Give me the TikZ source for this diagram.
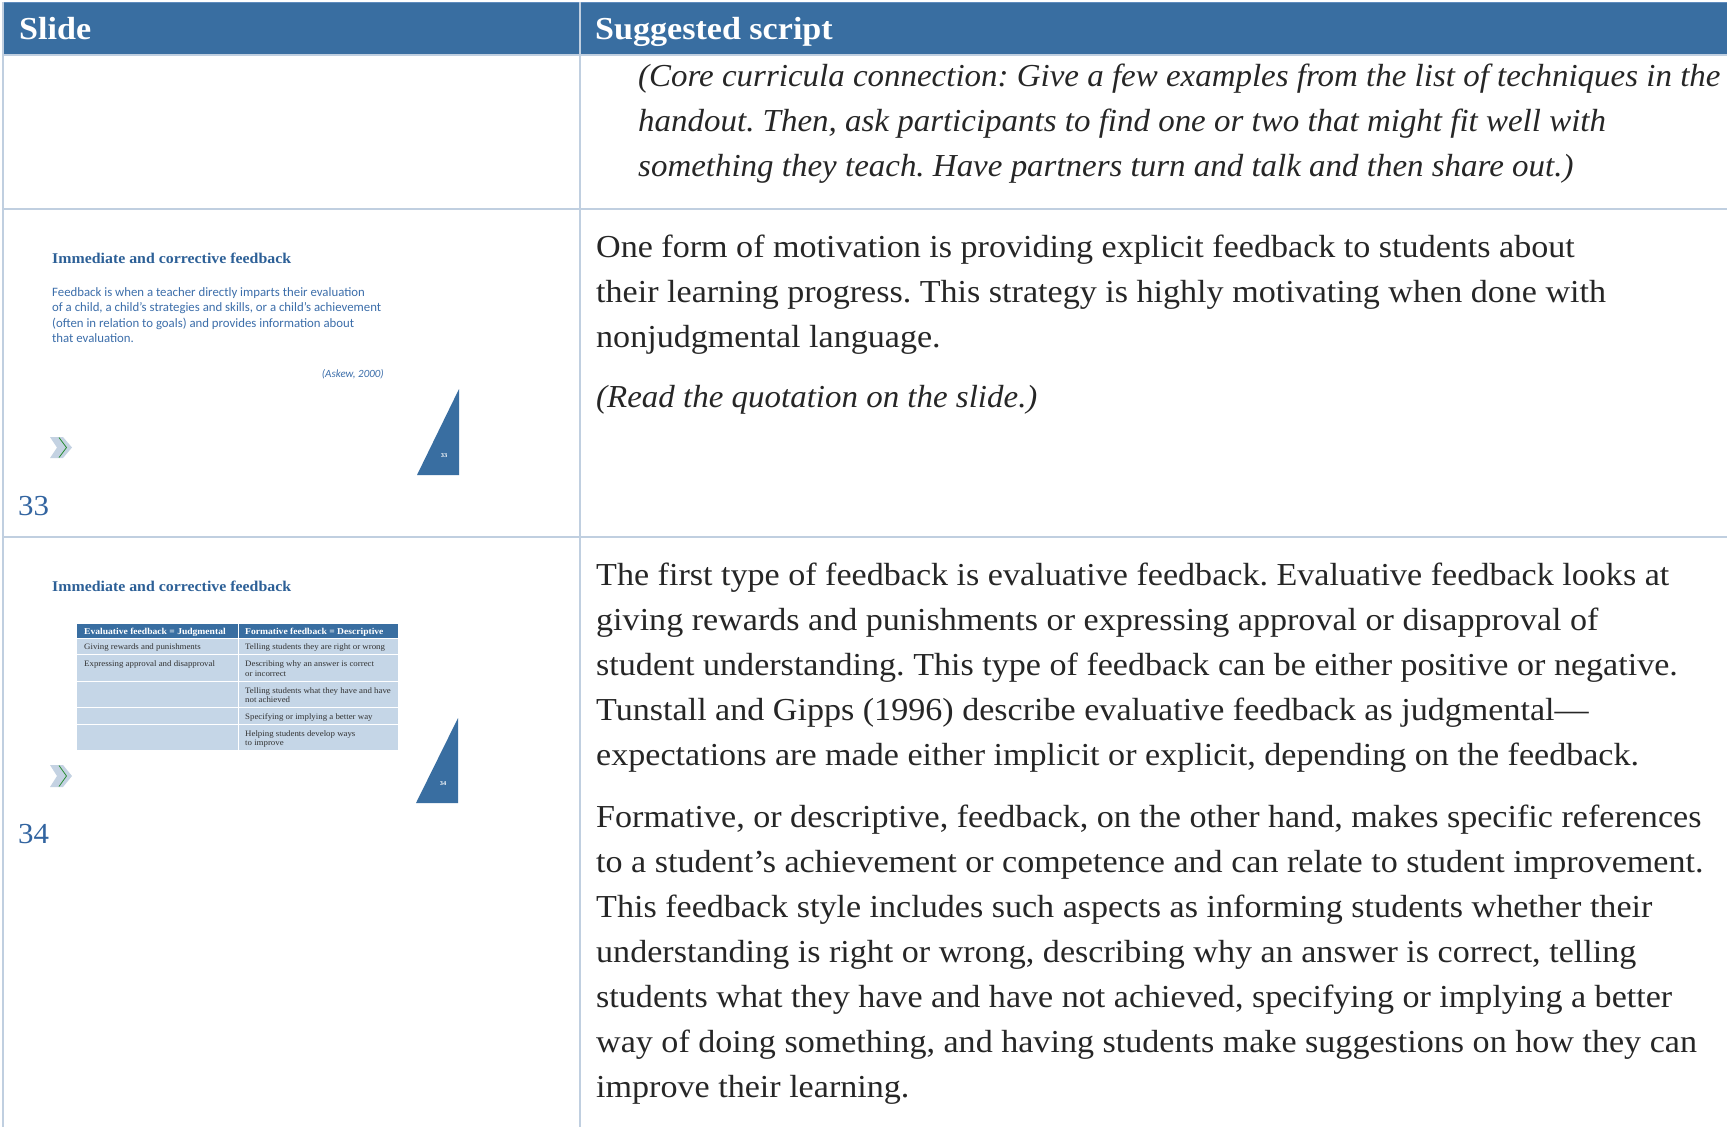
\documentclass[tikz,border=0pt]{standalone}
\usepackage{fontspec}
\newfontfamily\bodyrm{Liberation Serif}[FakeStretch=1.065]
\newfontfamily\bodyitf{Liberation Serif}[FakeStretch=1.03]
\newfontfamily\calib{Carlito}
\definecolor{hdrblue}{RGB}{57,110,161}
\definecolor{hdrtop}{RGB}{95,140,190}
\definecolor{gridc}{RGB}{192,207,224}
\definecolor{titleblue}{RGB}{45,96,151}
\definecolor{slidetext}{RGB}{60,110,170}
\definecolor{numblue}{RGB}{50,100,160}
\definecolor{tablelight}{RGB}{197,214,231}
\definecolor{chevlight}{RGB}{196,210,226}
\definecolor{chevgreen}{RGB}{40,140,50}
\definecolor{txtgray}{RGB}{38,38,38}
\definecolor{celltext}{RGB}{50,50,50}
\tikzset{
  gridline/.style={draw=gridc, line width=2pt},
  body/.style={anchor=base west, inner sep=0pt, text=txtgray, font=\bodyrm\fontsize{32}{45}\selectfont},
  bodyit/.style={anchor=base west, inner sep=0pt, text=txtgray, font=\bodyitf\fontsize{32}{45}\selectfont\itshape},
  hdrtext/.style={anchor=base west, inner sep=0pt, text=white, font=\bodyrm\fontsize{32}{40}\selectfont\bfseries},
  slidetitle/.style={anchor=base west, inner sep=0pt, text=titleblue, font=\bodyrm\fontsize{14.9}{18}\selectfont\bfseries},
  slidebody/.style={anchor=base west, inner sep=0pt, text=slidetext, font=\calib\fontsize{12.8}{15}\selectfont},
  cite/.style={anchor=base east, inner sep=0pt, text=slidetext, font=\calib\fontsize{11}{13}\selectfont\itshape},
  rownum/.style={anchor=base west, inner sep=0pt, text=numblue, font=\bodyrm\fontsize{29}{34}\selectfont},
  tri/.style={fill=hdrblue},
  trinum/.style={inner sep=0pt, text=white, font=\bodyrm\fontsize{6}{7}\selectfont\bfseries},
  chev/.style={fill=chevlight},
  chevline/.style={draw=chevgreen, line width=0.8pt},
  thead/.style={anchor=base west, inner sep=0pt, text=white, font=\bodyrm\fontsize{9}{10}\selectfont\bfseries},
  tcell/.style={anchor=base west, inner sep=0pt, text=celltext, font=\bodyrm\fontsize{8.3}{10}\selectfont},
  tsep/.style={draw=white, line width=1pt}
}
\frenchspacing
\begin{document}
\frenchspacing
\begin{tikzpicture}[x=1pt,y=-1pt]
\useasboundingbox (0,0) rectangle (1727,1127);
\fill[white] (0,0) rectangle (1727,1127);
% header band
\fill[hdrblue] (3,2) rectangle (1727,55);
\draw[draw=hdrtop, line width=1pt] (3,2) -- (1727,2);
% grid lines
\draw[gridline] (3,2) -- (3,1127);
\draw[gridline] (580,2) -- (580,1127);
\draw[gridline] (3,55) -- (1727,55);
\draw[gridline] (3,209) -- (1727,209);
\draw[gridline] (3,537) -- (1727,537);
% header texts
\node[hdrtext] (hslide) at (19,39) {Slide};
\node[hdrtext] (hscript) at (595,39) {Suggested script};
% row 1
\foreach \t [count=\i from 0] in {
  {(Core curricula connection: Give a few examples from the list of techniques in the},
  {handout. Then, ask participants to find one or two that might fit well with},
  {something they teach. Have partners turn and talk and then share out.)}}
  \node[bodyit] (ra-\i) at (638,{86+45*\i}) {\t};
% row 2 script
\foreach \t [count=\i from 0] in {
  {One form of motivation is providing explicit feedback to students about},
  {their learning progress. This strategy is highly motivating when done with},
  {nonjudgmental language.}}
  \node[body] (rb-\i) at (596,{257+45*\i}) {\t};
\node[bodyit] (rbit) at (596,407) {(Read the quotation on the slide.)};
% row 3 script
\foreach \t [count=\i from 0] in {
  {The first type of feedback is evaluative feedback. Evaluative feedback looks at},
  {giving rewards and punishments or expressing approval or disapproval of},
  {student understanding. This type of feedback can be either positive or negative.},
  {Tunstall and Gipps (1996) describe evaluative feedback as judgmental—},
  {expectations are made either implicit or explicit, depending on the feedback.}}
  \node[body] (rc-\i) at (596,{585+45*\i}) {\t};
\foreach \t [count=\i from 0] in {
  {Formative, or descriptive, feedback, on the other hand, makes specific references},
  {to a student’s achievement or competence and can relate to student improvement.},
  {This feedback style includes such aspects as informing students whether their},
  {understanding is right or wrong, describing why an answer is correct, telling},
  {students what they have and have not achieved, specifying or implying a better},
  {way of doing something, and having students make suggestions on how they can},
  {improve their learning.}}
  \node[body] (rd-\i) at (596,{827+45*\i}) {\t};
% slide 33
\node[slidetitle] (s33title) at (52,263) {Immediate and corrective feedback};
\foreach \t [count=\i from 0] in {
  {Feedback is when a teacher directly imparts their evaluation},
  {of a child, a child’s strategies and skills, or a child’s achievement},
  {(often in relation to goals) and provides information about},
  {that evaluation.}}
  \node[slidebody] (s33b-\i) at (52,{296.2+15.4*\i}) {\t};
\node[cite] (s33cite) at (384,377) {(Askew, 2000)};
\fill[chev] (50,437) -- (63,437) -- (72,447.5) -- (63,458) -- (50,458) -- (57,447.5) -- cycle;
\draw[chevline] (59,437.5) -- (66.5,447.5) -- (59,457.5);
\fill[tri] (417,475) -- (459,475) -- (459,389) -- cycle;
\node[trinum] (s33n) at (444,456) {33};
\node[rownum] (n33) at (18,515) {33};
% slide 34
\node[slidetitle] (s34title) at (52,591) {Immediate and corrective feedback};
\fill[hdrblue] (77,624) rectangle (398,638);
\fill[tablelight] (77,638) rectangle (398,750);
\draw[tsep] (77,638) -- (398,638);
\draw[tsep] (77,654) -- (398,654);
\draw[tsep] (77,681) -- (398,681);
\draw[tsep] (77,707) -- (398,707);
\draw[tsep] (77,724) -- (398,724);
\draw[tsep] (238,624) -- (238,750);
\node[thead] (th1) at (84,634.5) {Evaluative feedback = Judgmental};
\node[thead] (th2) at (245,634.5) {Formative feedback = Descriptive};
\node[tcell] (c11) at (84,649) {Giving rewards and punishments};
\node[tcell] (c12) at (245,649) {Telling students they are right or wrong};
\node[tcell] (c21) at (84,666) {Expressing approval and disapproval};
\node[tcell] (c22a) at (245,666) {Describing why an answer is correct};
\node[tcell] (c22b) at (245,676) {or incorrect};
\node[tcell] (c32a) at (245,693) {Telling students what they have and have};
\node[tcell] (c32b) at (245,702.5) {not achieved};
\node[tcell] (c42) at (245,719) {Specifying or implying a better way};
\node[tcell] (c52a) at (245,736) {Helping students develop ways};
\node[tcell] (c52b) at (245,745.5) {to improve};
\fill[chev] (50,765) -- (63,765) -- (72,776) -- (63,787) -- (50,787) -- (57,776) -- cycle;
\draw[chevline] (59,765.5) -- (66.5,776) -- (59,786.5);
\fill[tri] (416,803) -- (458,803) -- (458,718) -- cycle;
\node[trinum] (s34n) at (443,784) {34};
\node[rownum] (n34) at (18,843) {34};
\end{tikzpicture}
\end{document}
